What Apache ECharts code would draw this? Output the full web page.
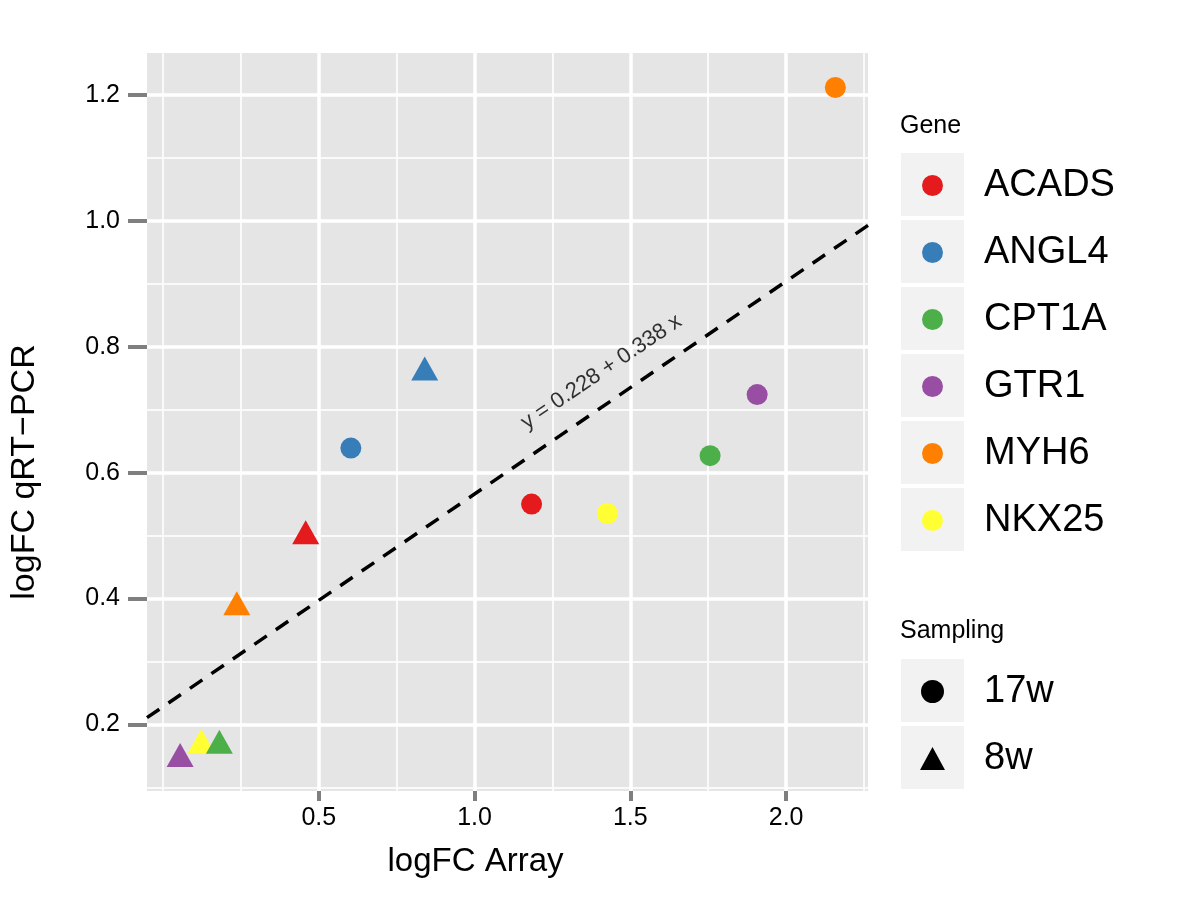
<!DOCTYPE html>
<html>
<head>
<meta charset="utf-8">
<script src="https://cdn.jsdelivr.net/npm/echarts@6/dist/echarts.min.js"></script>
<style>html,body{margin:0;padding:0;background:#fff}#chart{width:1200px;height:920px}</style>
</head>
<body>
<div id="chart"></div>
<script>
// ---- data ----
const genes = ['ACADS', 'ANGL4', 'CPT1A', 'GTR1', 'MYH6', 'NKX25'];
const geneColors = ['#E41A1C', '#377EB8', '#4DAF4A', '#984EA3', '#FF7F00', '#FFFF33'];
const geneDrawOrder = [4, 4, 5, 4, 4, 4];
const samplings = ['17w', '8w'];
const x17w = [1.183, 0.603, 1.756, 1.907, 2.158, 1.426];
const y17w = [0.550, 0.639, 0.627, 0.724, 1.212, 0.535];
const x8w = [0.458, 0.840, 0.181, 0.055, 0.237, 0.123];
const y8w = [0.499, 0.759, 0.166, 0.145, 0.386, 0.167];
const fitIntercept = 0.228;
const fitSlope = 0.338;
const fitLabel = 'y = 0.228 + 0.338 x';
const fitLabelPos = [1.407, 0.760];
const xTicks = [0.5, 1.0, 1.5, 2.0];
const xMinor = [0, 0.25, 0.75, 1.25, 1.75, 2.25];
const yTicks = [0.2, 0.4, 0.6, 0.8, 1.0, 1.2];
const yMinor = [0.1, 0.3, 0.5, 0.7, 0.9, 1.1];
const xRange = [-0.0513, 2.2628];
const yRange = [0.0941, 1.2668];

const FONT = "'Liberation Sans', Arial, Helvetica, sans-serif";
const chart = echarts.init(document.getElementById('chart'), null, {renderer: 'canvas'});

const gridLines = [];
xMinor.forEach(v => gridLines.push({xAxis: v, lineStyle: {color: '#fafafa', width: 2, type: 'solid'}}));
yMinor.forEach(v => gridLines.push({yAxis: v, lineStyle: {color: '#fafafa', width: 2, type: 'solid'}}));
xTicks.forEach(v => gridLines.push({xAxis: v, lineStyle: {color: '#ffffff', width: 3.5, type: 'solid'}}));
yTicks.forEach(v => gridLines.push({yAxis: v, lineStyle: {color: '#ffffff', width: 3.5, type: 'solid'}}));

const series = [];
series.push({
  name: '__grid', type: 'line', data: [], silent: true, z: 1,
  markLine: {silent: true, z: 1, symbol: ['none', 'none'], label: {show: false}, animation: false, data: gridLines}
});
series.push({
  name: '__fit', type: 'line', silent: true, z: 3, symbol: 'none',
  data: [[xRange[0], fitIntercept + fitSlope * xRange[0]], [xRange[1], fitIntercept + fitSlope * xRange[1]]],
  lineStyle: {color: '#000', width: 3.5, type: [15, 11]}
});
series.push({
  name: '__fitlabel', type: 'scatter', silent: true, z: 3, symbolSize: 0,
  data: [fitLabelPos],
  label: {show: true, position: 'inside', formatter: fitLabel, rotate: 34, fontSize: 22, color: '#000', fontFamily: FONT, textBorderWidth: 0}
});
genes.forEach((g, i) => {
  series.push({
    name: g, type: 'scatter', z: geneDrawOrder[i],
    itemStyle: {color: geneColors[i], opacity: 1},
    data: [
      {value: [x17w[i], y17w[i]], symbol: 'circle', symbolSize: 21},
      {value: [x8w[i], y8w[i]], symbol: 'triangle', symbolSize: [27, 24], symbolOffset: [0, -4]}
    ]
  });
});
samplings.forEach(s => {
  series.push({name: s, type: 'scatter', data: [], itemStyle: {color: '#000000'}});
});

const keyRects = [];
genes.forEach((g, i) => keyRects.push({type: 'rect', shape: {x: 901, y: 153 + 67 * i, width: 63, height: 63}, style: {fill: '#f2f2f2'}, z: 0}));
samplings.forEach((s, i) => keyRects.push({type: 'rect', shape: {x: 901, y: 659 + 67 * i, width: 63, height: 63}, style: {fill: '#f2f2f2'}, z: 0}));

const option = {
  animation: false,
  backgroundColor: '#ffffff',
  textStyle: {fontFamily: FONT},
  grid: {left: 146, top: 53, width: 722, height: 738, show: true, backgroundColor: '#e5e5e5', borderWidth: 0, containLabel: false},
  xAxis: {
    type: 'value', min: xRange[0], max: xRange[1],
    name: 'logFC Array', nameLocation: 'middle', nameGap: 54,
    nameTextStyle: {fontSize: 33, color: '#000', fontFamily: FONT, padding: [0, 64, 0, 0]},
    axisLine: {show: true, onZero: false, lineStyle: {color: 'rgba(0,0,0,0)', width: 0}},
    axisTick: {show: true, inside: false, customValues: xTicks, length: 10, lineStyle: {color: '#7f7f7f', width: 4}},
    axisLabel: {show: true, customValues: xTicks, margin: 15, fontSize: 25, color: '#000', fontFamily: FONT, formatter: v => v.toFixed(1)},
    splitLine: {show: false}
  },
  yAxis: {
    type: 'value', min: yRange[0], max: yRange[1],
    name: 'logFC qRT\u2212PCR', nameLocation: 'middle', nameGap: 105,
    nameTextStyle: {fontSize: 34, color: '#000', fontFamily: FONT, padding: [0, 100, 0, 0]},
    axisLine: {show: true, onZero: false, lineStyle: {color: 'rgba(0,0,0,0)', width: 0}},
    axisTick: {show: true, inside: false, customValues: yTicks, length: 19, lineStyle: {color: '#7f7f7f', width: 4}},
    axisLabel: {show: true, customValues: yTicks, margin: 27, fontSize: 25, color: '#000', fontFamily: FONT, formatter: v => v.toFixed(1)},
    splitLine: {show: false}
  },
  legend: [
    {
      data: genes.map(g => ({name: g, icon: 'circle'})),
      orient: 'vertical', left: 922, top: 152, padding: 0, itemGap: 0,
      itemWidth: 21, itemHeight: 21, selectedMode: false,
      textStyle: {fontSize: 38, color: '#000', fontFamily: FONT, lineHeight: 67, padding: [0, 0, 0, 36]}
    },
    {
      data: [
        {name: samplings[0], icon: 'circle', itemStyle: {color: '#000000', opacity: 1}},
        {name: samplings[1], icon: 'triangle', itemStyle: {color: '#000000', opacity: 1}}
      ],
      orient: 'vertical', left: 920, top: 658, padding: 0, itemGap: 0,
      itemWidth: 25, itemHeight: 23, selectedMode: false,
      itemStyle: {color: '#000000', opacity: 1},
      textStyle: {fontSize: 38, color: '#000', fontFamily: FONT, lineHeight: 67, padding: [0, 0, 0, 34]}
    }
  ],
  graphic: keyRects.concat([
    {type: 'text', x: 900, y: 126, z: 5, style: {text: 'Gene', fontSize: 25, fill: '#000', fontFamily: FONT, verticalAlign: 'middle', align: 'left'}},
    {type: 'text', x: 900, y: 631, z: 5, style: {text: 'Sampling', fontSize: 25, fill: '#000', fontFamily: FONT, verticalAlign: 'middle', align: 'left'}}
  ]),
  series: series
};
chart.setOption(option);
</script>
</body>
</html>
